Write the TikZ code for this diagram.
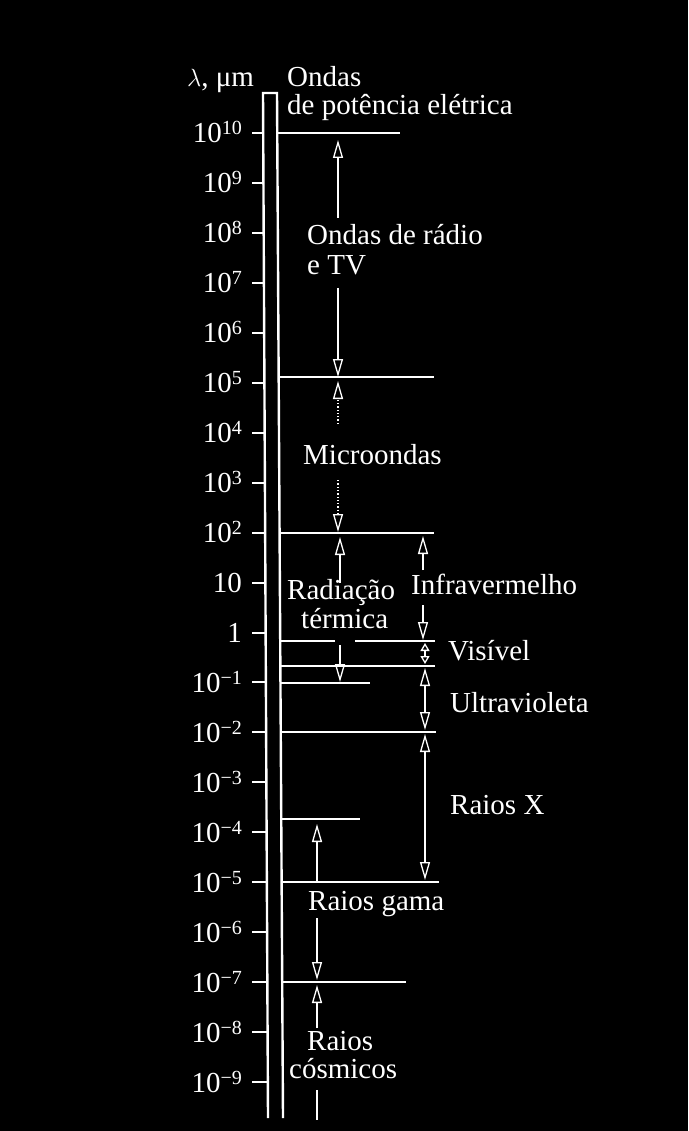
\documentclass[tikz,border=0pt]{standalone}
\usepackage{fontspec}
\setmainfont{Liberation Serif}
\usetikzlibrary{arrows.meta}
\newcommand\expo[1]{\raisebox{8pt}{\fontsize{20}{20}\selectfont #1}}
\tikzset{
  lbl/.style={text=white, inner sep=0pt, font=\fontsize{29}{29}\selectfont, anchor=base west},
  tlbl/.style={lbl, anchor=base east},
  barline/.style={white, line width=2.4pt, line join=miter},
  bound/.style={white, line width=2pt},
  tickline/.style={white, line width=2pt},
  tip/.tip={Triangle[open, length=18pt, width=10pt]},
  smalltip/.tip={Triangle[open, length=8pt, width=9pt]},
  arr/.style={white, line width=1.3pt, -tip},
  darr/.style={white, line width=1.3pt, tip-tip},
  sdarr/.style={white, line width=1.3pt, smalltip-smalltip},
  dotarr/.style={arr, dotted},
  plain/.style={white, line width=1.3pt},
}
\begin{document}
\begin{tikzpicture}[x=1pt,y=-1pt]
\fill[black] (0,0) rectangle (688,1131);
\useasboundingbox (0,0) rectangle (688,1131);

% the bar
\draw[barline] (268,1118) -- (263,93) -- (277,93) -- (283,1118);

% scale ticks and labels
\foreach \i/\lab in {0/10\expo{10},1/10\expo{9},2/10\expo{8},
  3/10\expo{7},4/10\expo{6},5/10\expo{5},6/10\expo{4},
  7/10\expo{3},8/10\expo{2},9/10,10/1,11/10\expo{−1},
  12/10\expo{−2},13/10\expo{−3},14/10\expo{−4},
  15/10\expo{−5},16/10\expo{−6},17/10\expo{−7},
  18/10\expo{−8},19/10\expo{−9}}{
  \pgfmathsetmacro{\yy}{133+49.95*\i}
  \pgfmathsetmacro{\xb}{263+(\yy-93)*5/1025}
  \node[tlbl] (t\i) at (242,\yy+10) {\lab};
  \coordinate (ta\i) at (252,\yy);
  \coordinate (tb\i) at (\xb,\yy);
  \draw[tickline] (ta\i) -- (tb\i);
}

% header
\node[lbl] (lam) at (187,87) {$\lambda$, μm};
\node[lbl] (pw1) at (287,87) {Ondas};
\node[lbl] (pw2) at (287,115) {de potência elétrica};

% boundary lines
\draw[bound] (277.2,133) -- (400,133);
\draw[bound] (278.7,377) -- (434,377);
\draw[bound] (279.6,533) -- (434,533);
\draw[bound] (280.2,641) -- (335,641);
\draw[bound] (355,641) -- (435,641);
\draw[bound] (280.4,666) -- (435,666);
\draw[bound] (280.5,683) -- (370,683);
\draw[bound] (280.8,732) -- (436,732);
\draw[bound] (281.3,819) -- (360,819);
\draw[bound] (281.6,882) -- (439,882);
\draw[bound] (282.2,982) -- (406,982);

% radio and TV
\node[lbl] (rad1) at (307,245) {Ondas de rádio};
\node[lbl] (rad2) at (307,275) {e TV};
\coordinate (ra1) at (338,218); \coordinate (ra2) at (338,140);
\coordinate (ra3) at (338,288); \coordinate (ra4) at (338,377);
\draw[arr] (ra1) -- (ra2);
\draw[arr] (ra3) -- (ra4);

% microwaves
\node[lbl] (mic) at (303,464) {Microondas};
\coordinate (mi1) at (338,424); \coordinate (mi2) at (338,381);
\coordinate (mi3) at (338,480); \coordinate (mi4) at (338,532);
\draw[dotarr] (mi1) -- (mi2);
\draw[dotarr] (mi3) -- (mi4);

% thermal radiation
\node[lbl] (th1) at (287,599) {Radiação};
\node[lbl] (th2) at (301,628) {térmica};
\coordinate (tr1) at (340,583); \coordinate (tr2) at (340,537);
\coordinate (tr3) at (340,645); \coordinate (tr4) at (340,682);
\draw[arr] (tr1) -- (tr2);
\draw[arr] (tr3) -- (tr4);

% infrared
\node[lbl] (ir) at (411,594) {Infravermelho};
\coordinate (ir1) at (423,570); \coordinate (ir2) at (423,536);
\coordinate (ir3) at (423,605); \coordinate (ir4) at (423,640);
\draw[arr] (ir1) -- (ir2);
\draw[arr] (ir3) -- (ir4);

% visible
\node[lbl] (vis) at (448,660) {Visível};
\coordinate (vi1) at (425,643); \coordinate (vi2) at (425,664);
\draw[sdarr] (vi1) -- (vi2);

% ultraviolet
\node[lbl] (uv) at (450,712) {Ultravioleta};
\coordinate (uv1) at (425,668); \coordinate (uv2) at (425,730);
\draw[darr] (uv1) -- (uv2);

% X rays
\node[lbl] (xr) at (450,814) {Raios X};
\coordinate (xr1) at (425,734); \coordinate (xr2) at (425,880);
\draw[darr] (xr1) -- (xr2);

% gamma rays
\node[lbl] (gam) at (308,910) {Raios gama};
\coordinate (ga1) at (317,882); \coordinate (ga2) at (317,824);
\coordinate (ga3) at (317,918); \coordinate (ga4) at (317,980);
\draw[arr] (ga1) -- (ga2);
\draw[arr] (ga3) -- (ga4);

% cosmic rays
\node[lbl] (co1) at (307,1050) {Raios};
\node[lbl] (co2) at (289,1078) {cósmicos};
\coordinate (cr1) at (317,1028); \coordinate (cr2) at (317,985);
\coordinate (cr3) at (317,1090); \coordinate (cr4) at (317,1120);
\draw[arr] (cr1) -- (cr2);
\draw[plain] (cr3) -- (cr4);
\end{tikzpicture}
\end{document}
